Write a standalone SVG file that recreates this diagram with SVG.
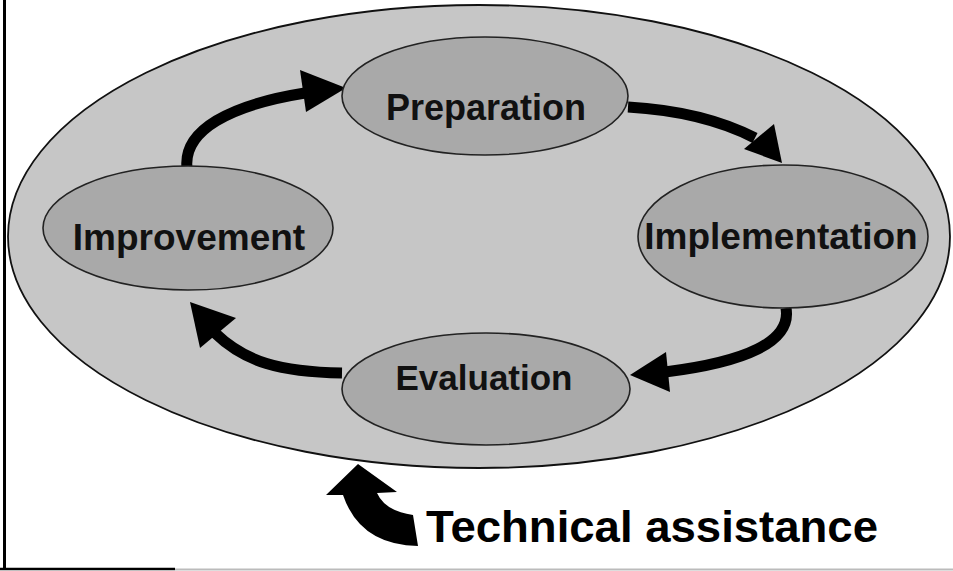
<svg xmlns="http://www.w3.org/2000/svg" width="953" height="571" viewBox="0 0 953 571">
<style>
.outer{fill:#c6c6c6;stroke:#111;stroke-width:1.8}
.node{fill:#a9a9a9;stroke:#222;stroke-width:1.6}
.lbl{font-family:"Liberation Sans",Arial,sans-serif;font-weight:bold;fill:#111;text-anchor:middle}
.conn{fill:none;stroke:#000;stroke-width:11}
.head{fill:#000}
</style>
<rect width="953" height="571" fill="#fff"/>
<g id="frame">
<line x1="4.5" y1="0" x2="4.5" y2="569" stroke="#000" stroke-width="3"/>
<line x1="0" y1="569" x2="175" y2="569" stroke="#000" stroke-width="2.5"/>
<line x1="175" y1="569.5" x2="953" y2="569.5" stroke="#bbb" stroke-width="2"/>
</g>
<g id="context">
<ellipse class="outer" cx="479" cy="236.5" rx="471" ry="231.5"/>
</g>
<g id="connectors">
<path class="conn" d="M187,168 C183,130 230,105 305,93"/>
<polygon class="head" points="346,88 300,70 306,112"/>
<path class="conn" d="M628,107 C680,110 720,120 755,138"/>
<polygon class="head" points="782,163 744,149 774,124"/>
<path class="conn" d="M786,308 C792,342 745,362 665,372"/>
<polygon class="head" points="630,375 666,352 670,392"/>
<path class="conn" d="M342,373 C280,372 245,362 215,333"/>
<polygon class="head" points="190,302 200,348 236,318"/>
<path class="head" d="M358,464 L397,492 L377,493 Q385,511 413,515 L418,546 Q360,545 343,495 L326,495 Z"/>
</g>
<g id="preparation">
<ellipse class="node" cx="485" cy="96" rx="143" ry="59"/>
<text class="lbl" x="486" y="120" font-size="36">Preparation</text>
</g>
<g id="improvement">
<ellipse class="node" cx="188" cy="228" rx="145" ry="62"/>
<text class="lbl" x="189" y="250" font-size="37">Improvement</text>
</g>
<g id="implementation">
<ellipse class="node" cx="783" cy="236.5" rx="145" ry="71.5"/>
<text class="lbl" x="781" y="249" font-size="37">Implementation</text>
</g>
<g id="evaluation">
<ellipse class="node" cx="486" cy="389" rx="144" ry="56"/>
<text class="lbl" x="484" y="390" font-size="35">Evaluation</text>
</g>
<g id="technical">
<text x="426" y="542" font-family="'Liberation Sans',Arial,sans-serif" font-weight="bold" font-size="45" fill="#000" textLength="452" lengthAdjust="spacingAndGlyphs">Technical assistance</text>
</g>
</svg>
